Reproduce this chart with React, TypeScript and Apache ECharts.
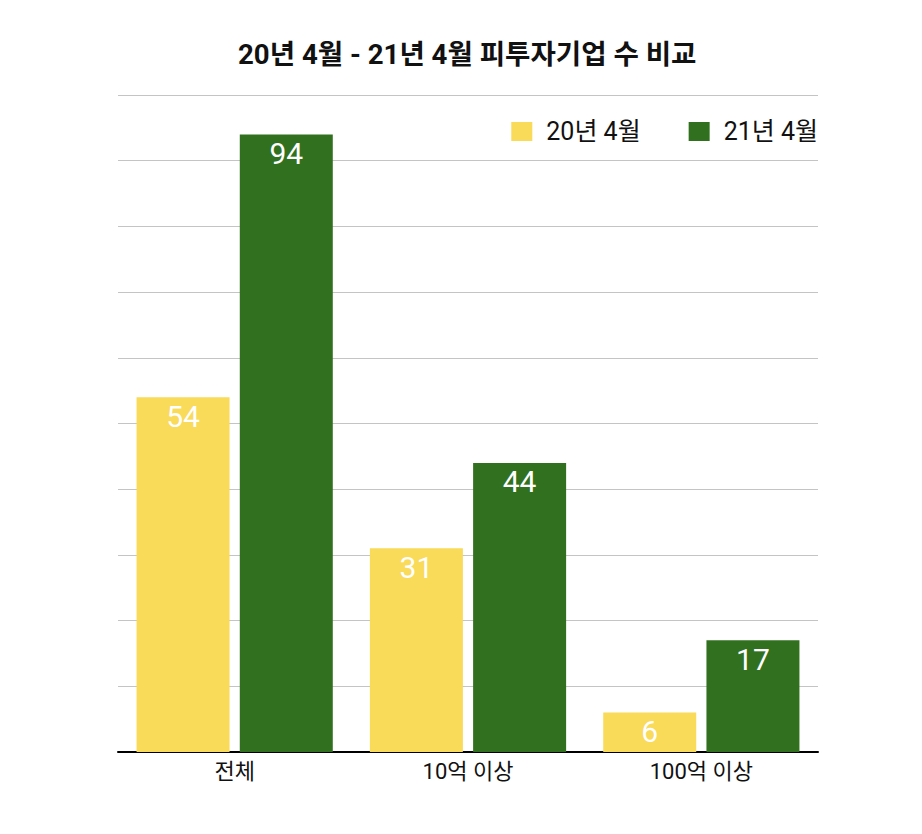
import React, { useEffect, useRef } from "react";
import * as echarts from "echarts";

const categories = ["전체", "10억 이상", "100억 이상"];
const seriesNames = ["20년 4월", "21년 4월"];
const values2020 = [54, 31, 6];
const values2021 = [94, 44, 17];

const FONT = "Roboto, 'Noto Sans CJK KR', sans-serif";

export default function App() {
  const ref = useRef<HTMLDivElement>(null);
  useEffect(() => {
    document.body.style.margin = "0";
    const chart = echarts.init(ref.current!, null, { renderer: "svg" });
    const label = {
      show: true,
      position: "insideTop",
      distance: 4,
      color: "#ffffff",
      fontSize: 30,
      fontFamily: FONT,
    };
    chart.setOption({
      animation: false,
      title: {
        text: "20년 4월 - 21년 4월 피투자기업 수 비교",
        left: 238,
        top: 41,
        padding: 0,
        textStyle: { fontSize: 27.6, fontWeight: "bold", color: "#111", fontFamily: FONT },
      },
      legend: {
        right: 104,
        top: 119,
        padding: 0,
        itemWidth: 21,
        itemHeight: 19,
        itemGap: 48,
        icon: "rect",
        textStyle: { fontSize: 25, color: "#111", fontFamily: FONT, padding: [0, 0, 0, 9] },
        data: seriesNames,
      },
      grid: { left: 118, right: 104, top: 95, bottom: 82, containLabel: false },
      xAxis: {
        type: "category",
        data: categories,
        axisLine: { lineStyle: { color: "#000", width: 2 } },
        axisTick: { show: false },
        axisLabel: { fontSize: 22, color: "#111", margin: 8, fontFamily: FONT },
      },
      yAxis: {
        type: "value",
        min: 0,
        max: 100,
        interval: 10,
        axisLabel: { show: false },
        axisLine: { show: false },
        axisTick: { show: false },
        splitLine: { lineStyle: { color: "#c4c4c4", width: 1 } },
      },
      series: [
        {
          name: seriesNames[0],
          type: "bar",
          data: values2020,
          barWidth: 93,
          barGap: "11%",
          itemStyle: { color: "#F9DA59" },
          label,
        },
        {
          name: seriesNames[1],
          type: "bar",
          data: values2021,
          barWidth: 93,
          barGap: "11%",
          itemStyle: { color: "#31701F" },
          label,
        },
      ],
    });
    return () => chart.dispose();
  }, []);
  return <div ref={ref} style={{ width: 922, height: 834 }} />;
}
